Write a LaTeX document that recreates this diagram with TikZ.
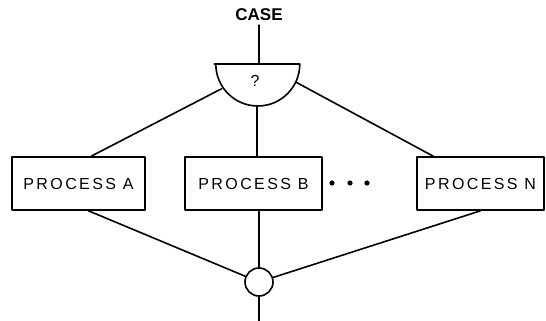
\documentclass[tikz,border=0pt]{standalone}
\usepackage{fontspec}
\setmainfont{Liberation Sans}
\begin{document}
\begin{tikzpicture}[x=1pt,y=1pt,line width=1.6pt,line join=round,line cap=round,
	procbox/.style={draw,rectangle,minimum height=53pt,inner sep=0pt,font=\fontsize{16}{18}\selectfont\addfontfeature{LetterSpace=15}}]
	\useasboundingbox (0,0) rectangle (546,321);
	\node [font=\bfseries\fontsize{17}{19}\selectfont] (case) at (259,306) {CASE};
	\node [circle,inner sep=0pt,minimum size=84pt] (sel) at (257,257) {};
	\draw (sel.west)--(sel.east) arc [start angle=0,end angle=-180,radius=42pt];
	\node [font=\fontsize{16}{18}\selectfont] (q) at (255,240) {?};
	\draw (case)--(case |- sel.center);
	\node [procbox,minimum width=133pt] (A) at (78.5,137.5) {PROCESS A};
	\node [procbox,minimum width=137pt] (B) at (253.5,137.5) {PROCESS B};
	\node [procbox,minimum width=127pt] (N) at (480.5,137.5) {PROCESS N};
	\foreach \x in {332,350,367} \fill (\x,138) circle (2.6);
	\node [draw,circle,minimum size=28pt,inner sep=0pt] (join) at (259,39) {};
	\coordinate (out) at (259,0);
	\draw (sel.-145)--(A.65) (sel.south)--(sel.south |- B.north) (sel.-25)--(N.150);
	\draw (A.-70)--(join) (B.south -| join)--(join) (N.south)--(join) (join)--(out);
\end{tikzpicture}
\end{document}
